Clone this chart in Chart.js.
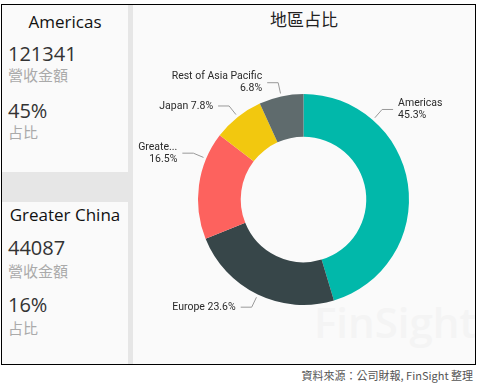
<!DOCTYPE html>
<html>
<head>
<meta charset="utf-8">
<script src="https://cdn.jsdelivr.net/npm/chart.js@4.4.1/dist/chart.umd.min.js"></script>
<style>
  html, body { margin: 0; padding: 0; background: #fff; }
  body { width: 479px; height: 384px; position: relative; overflow: hidden;
         font-family: 'Open Sans', 'Noto Sans CJK TC', sans-serif; }
  #frame { position: absolute; left: 1px; top: 4px; width: 473px; height: 359px;
           border: 1px solid #000; background: #e6e6e6; }
  .card { position: absolute; left: 0; width: 126px; background: #fafafa; }
  .card .name { position: absolute; left: 0; width: 126px; text-align: center; font-size: 17px; color: #111; line-height: 20px; }
  .card .num { position: absolute; left: 6px; font-size: 20px; color: #333; line-height: 22px; }
  .card .lbl { position: absolute; left: 6px; font-size: 15px; color: #aaa; line-height: 18px;
               font-family: 'Noto Sans CJK TC', sans-serif; }
  #panel { position: absolute; left: 131px; top: 0; width: 342px; height: 359px; background: #fafafa; overflow: hidden; }
  #title { position: absolute; left: 0; top: 3px; width: 342px; text-align: center; font-size: 17px; color: #222;
           font-family: 'Noto Sans CJK TC', sans-serif; line-height: 22px; }
  #mark { position: absolute; left: 181px; top: 288px; font-size: 42px; font-weight: 600; color: #f4f4f4;
          font-family: 'Open Sans', sans-serif; white-space: nowrap; }
  #chartBox { position: absolute; left: 0; top: 0; width: 342px; height: 359px; }
  #source { position: absolute; right: 6px; top: 367px; font-size: 11px; color: #555;
            font-family: 'Noto Sans CJK TC', sans-serif; }
</style>
</head>
<body>
<div id="frame">
  <div class="card" style="top:0;height:167px;">
    <div class="name" style="top:7px;" id="c1name"></div>
    <div class="num" style="top:38px;" id="c1val"></div>
    <div class="lbl" style="top:61px;">營收金額</div>
    <div class="num" style="top:95px;" id="c1pct"></div>
    <div class="lbl" style="top:118px;">占比</div>
  </div>
  <div class="card" style="top:197px;height:162px;">
    <div class="name" style="top:3px;" id="c2name"></div>
    <div class="num" style="top:35px;" id="c2val"></div>
    <div class="lbl" style="top:60px;">營收金額</div>
    <div class="num" style="top:92px;" id="c2pct"></div>
    <div class="lbl" style="top:117px;">占比</div>
  </div>
  <div id="panel">
    <div id="mark">FinSight</div>
    <div id="title">地區占比</div>
    <div id="chartBox"><canvas id="pie"></canvas></div>
  </div>
</div>
<div id="source">資料來源：公司財報, FinSight 整理</div>

<script>
// regions, clockwise from 12 o'clock
const regions = ['Americas', 'Europe', 'Greater China', 'Japan', 'Rest of Asia Pacific'];
const revenue = [121341, 63129, 44087, 20864, 18189];
const sliceColors = ['#01B8AA', '#374649', '#FD625E', '#F2C80F', '#5F6B6D'];
// label text as shown on the chart (long name is truncated there)
const shownNames = ['Americas', 'Europe', 'Greate...', 'Japan', 'Rest of Asia Pacific'];
const wrapLabel = [true, false, true, false, true];

const total = revenue.reduce((a, b) => a + b, 0);
const share = revenue.map(v => v / total * 100);

// cards on the left
const $ = id => document.getElementById(id);
$('c1name').textContent = regions[0];
$('c1val').textContent = revenue[0];
$('c1pct').textContent = Math.round(share[0]) + '%';
$('c2name').textContent = regions[2];
$('c2val').textContent = revenue[2];
$('c2pct').textContent = Math.round(share[2]) + '%';

// outside labels with elbow leader lines
const outLabels = {
  id: 'outLabels',
  afterDatasetsDraw(chart, args, opts) {
    const ctx = chart.ctx;
    const meta = chart.getDatasetMeta(0);
    ctx.save();
    ctx.font = '10.5px Roboto, sans-serif';
    ctx.textBaseline = 'middle';
    meta.data.forEach((arc, i) => {
      const { x, y, startAngle, endAngle, outerRadius } = arc.getProps(['x', 'y', 'startAngle', 'endAngle', 'outerRadius'], true);
      const a = (startAngle + endAngle) / 2 + (opts.nudge[i] || 0) * Math.PI / 180;
      const cos = Math.cos(a), sin = Math.sin(a);
      const x0 = x + cos * (outerRadius + 3), y0 = y + sin * (outerRadius + 3);
      const x1 = x + cos * (outerRadius + 14), y1 = y + sin * (outerRadius + 14);
      const dir = cos >= 0 ? 1 : -1;
      const x2 = x1 + dir * 11;
      ctx.strokeStyle = '#999';
      ctx.lineWidth = 1;
      ctx.beginPath();
      ctx.moveTo(x0, y0);
      ctx.lineTo(x1, y1);
      ctx.lineTo(x2, y1);
      ctx.stroke();
      ctx.fillStyle = '#2a2a2a';
      ctx.textAlign = dir > 0 ? 'left' : 'right';
      const tx = x2 + dir * 5;
      const pct = share[i].toFixed(1) + '%';
      if (wrapLabel[i]) {
        ctx.fillText(shownNames[i], tx, y1 - 6);
        ctx.fillText(pct, tx, y1 + 6);
      } else {
        ctx.fillText(shownNames[i] + ' ' + pct, tx, y1);
      }
    });
    ctx.restore();
  }
};

new Chart($('pie'), {
  type: 'doughnut',
  data: {
    labels: regions,
    datasets: [{
      data: revenue,
      backgroundColor: sliceColors,
      borderWidth: 0
    }]
  },
  options: {
    responsive: true,
    maintainAspectRatio: false,
    animation: false,
    cutout: '59.5%',
    layout: { padding: { left: 65, right: 66, top: 89, bottom: 59 } },
    plugins: {
      legend: { display: false },
      tooltip: { enabled: false },
      outLabels: { nudge: [-40.5, 0, 15, 0, 0] }
    }
  },
  plugins: [outLabels]
});
</script>
</body>
</html>
